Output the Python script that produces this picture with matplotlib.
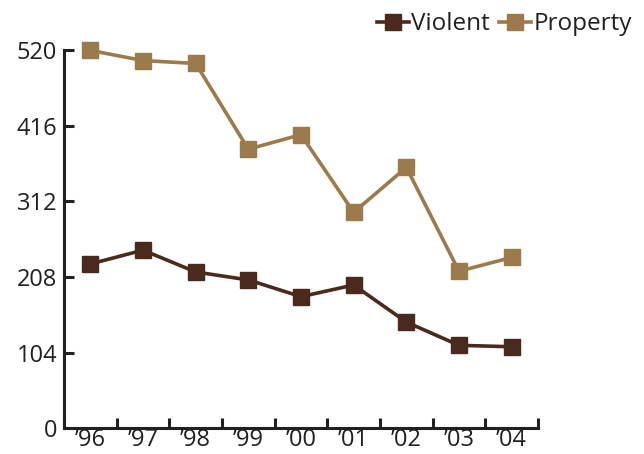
import numpy as np
import matplotlib
matplotlib.use("Agg")
import matplotlib.pyplot as plt

plt.rcParams['font.family'] = ['Open Sans', 'DejaVu Sans']

years = ["\u201996", "\u201997", "\u201998", "\u201999", "\u201900", "\u201901", "\u201902", "\u201903", "\u201904"]
violent = [226, 245, 215, 204, 181, 197, 146, 114, 112]
property_ = [520, 506, 502, 384, 404, 297, 359, 216, 235]
yticks = [0, 104, 208, 312, 416, 520]

c_violent = "#4a2a1c"
c_property = "#9b7a4b"
c_axis = "#231f20"

fig = plt.figure(figsize=(6.44, 4.54), dpi=100)
ax = fig.add_axes([0.0994, 0.057, 0.736, 0.832])

x = np.arange(len(years))
ax.plot(x, violent, color=c_violent, lw=2.6, marker="s", ms=11.5, label="Violent", clip_on=False)
ax.plot(x, property_, color=c_property, lw=2.6, marker="s", ms=11.5, label="Property", clip_on=False)

ax.set_xlim(-0.5, len(years) - 0.5)
ax.set_ylim(0, 520)
ax.set_yticks(yticks)
ax.set_yticklabels([str(v) for v in yticks])

# boundaries get the ticks, centres get the labels
ax.set_xticks(np.arange(len(years) + 1) - 0.5)
ax.set_xticklabels([])
ax.set_xticks(x, minor=True)
ax.set_xticklabels(years, minor=True)

for s in ["top", "right"]:
    ax.spines[s].set_visible(False)
for s in ["left", "bottom"]:
    ax.spines[s].set_linewidth(2.2)
    ax.spines[s].set_color(c_axis)

ax.tick_params(axis="y", direction="in", length=7, width=2.2, color=c_axis,
               labelsize=17, labelcolor=c_axis, pad=5)
ax.tick_params(axis="x", which="major", direction="in", length=7, width=2.2, color=c_axis)
ax.tick_params(axis="x", which="minor", length=0, labelsize=17, labelcolor=c_axis, pad=0)

fig.legend(loc="upper right", bbox_to_anchor=(1.0, 1.0), ncol=2, frameon=False,
           borderaxespad=0.1, fontsize=17.5, handlelength=1.3, handletextpad=0.1,
           columnspacing=0.4, labelcolor=c_axis)

fig.savefig("out.png", dpi=100)
